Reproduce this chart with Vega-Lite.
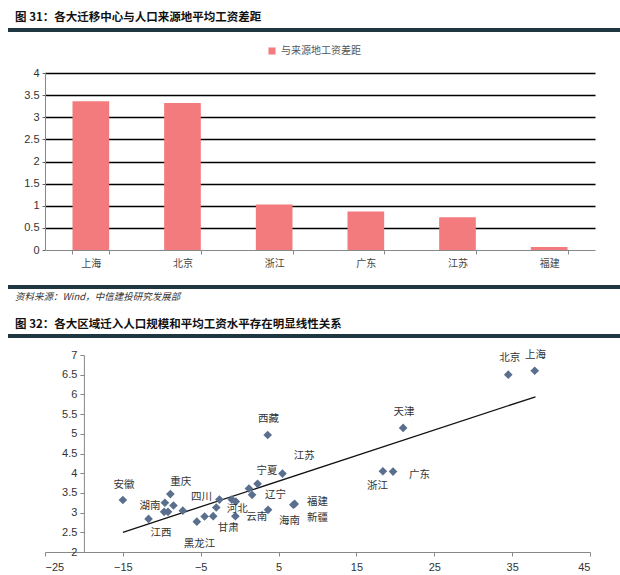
{
  "$schema": "https://vega.github.io/schema/vega-lite/v6.json",
  "padding": {"left": 5, "top": 0, "right": 0, "bottom": 0},
  "background": "white",
  "spacing": 0,
  "bounds": "flush",
  "config": {"view": {"stroke": null}, "axis": {"labelFont": "Liberation Sans"}},
  "vconcat": [
    {
      "width": 550,
      "height": 73,
      "layer": [
        {
          "data": {"values": [{"x1": -0.0673, "x2": 1.0455, "y": 0.411}]},
          "mark": {"type": "rule", "stroke": "#1f3740", "strokeWidth": 4},
          "encoding": {
            "x": {"field": "x1", "type": "quantitative", "scale": {"domain": [0, 1], "nice": false}, "axis": null},
            "x2": {"field": "x2"},
            "y": {"field": "y", "type": "quantitative", "scale": {"domain": [0, 1], "nice": false, "reverse": true}, "axis": null}
          }
        },
        {
          "data": {"values": [{"t": "图 31：各大迁移中心与人口来源地平均工资差距", "x": -0.0545, "y": 0.247}]},
          "mark": {"type": "text", "align": "left", "baseline": "middle", "font": "Noto Sans CJK SC", "fontWeight": "bold", "fontSize": 11.5, "color": "#111"},
          "encoding": {
            "x": {"field": "x", "type": "quantitative", "scale": {"domain": [0, 1], "nice": false}, "axis": null},
            "y": {"field": "y", "type": "quantitative", "scale": {"domain": [0, 1], "nice": false, "reverse": true}, "axis": null},
            "text": {"field": "t"}
          }
        }
      ]
    },
    {
      "width": 550,
      "height": 177,
      "data": {"values": [
        {"city": "上海", "gap": 3.36, "s": "与来源地工资差距"},
        {"city": "北京", "gap": 3.32, "s": "与来源地工资差距"},
        {"city": "浙江", "gap": 1.03, "s": "与来源地工资差距"},
        {"city": "广东", "gap": 0.87, "s": "与来源地工资差距"},
        {"city": "江苏", "gap": 0.74, "s": "与来源地工资差距"},
        {"city": "福建", "gap": 0.07, "s": "与来源地工资差距"}
      ]},
      "mark": {"type": "bar"},
      "encoding": {
        "x": {"field": "city", "type": "nominal", "sort": null,
          "scale": {"paddingInner": 0.6, "paddingOuter": 0.3},
          "axis": {"title": null, "labelAngle": 0, "tickBand": "extent", "domainColor": "#888", "tickColor": "#888", "tickSize": 4,
            "labelFont": "Noto Sans CJK SC", "labelFontSize": 10, "labelColor": "#444", "labelPadding": 4, "zindex": 1}},
        "y": {"field": "gap", "type": "quantitative", "scale": {"domain": [0, 4], "nice": false},
          "axis": {"title": null, "values": [0, 0.5, 1, 1.5, 2, 2.5, 3, 3.5, 4], "format": "~g", "grid": true, "labelOverlap": false,
            "gridColor": {"condition": {"test": "datum.value === 0", "value": "transparent"}, "value": "#000"},
            "gridWidth": 1.5, "domainColor": "#888", "tickColor": "#666", "tickSize": 3,
            "labelFontSize": 11, "labelColor": "#333", "labelPadding": 3}},
        "color": {"field": "s", "type": "nominal", "scale": {"range": ["#f47b7d"]},
          "legend": {"orient": "none", "legendX": 222, "legendY": 46, "title": null, "symbolType": "square", "symbolSize": 50,
            "symbolStrokeWidth": 0, "labelFontSize": 10, "labelColor": "#555", "labelFont": "Noto Sans CJK SC"}}
      }
    },
    {
      "width": 550,
      "height": 105,
      "layer": [
        {
          "data": {"values": [{"x1": -0.0673, "x2": 1.0455, "y": 0.352}, {"x1": -0.0673, "x2": 1.0455, "y": 0.819}]},
          "mark": {"type": "rule", "stroke": "#1f3740", "strokeWidth": 4},
          "encoding": {
            "x": {"field": "x1", "type": "quantitative", "scale": {"domain": [0, 1], "nice": false}, "axis": null},
            "x2": {"field": "x2"},
            "y": {"field": "y", "type": "quantitative", "scale": {"domain": [0, 1], "nice": false, "reverse": true}, "axis": null}
          }
        },
        {
          "data": {"values": [{"t": "资料来源：Wind，中信建投研究发展部", "x": -0.0545, "y": 0.448}]},
          "mark": {"type": "text", "align": "left", "baseline": "middle", "font": "Noto Sans CJK SC", "fontStyle": "italic", "fontSize": 9.5, "color": "#333"},
          "encoding": {
            "x": {"field": "x", "type": "quantitative", "scale": {"domain": [0, 1], "nice": false}, "axis": null},
            "y": {"field": "y", "type": "quantitative", "scale": {"domain": [0, 1], "nice": false, "reverse": true}, "axis": null},
            "text": {"field": "t"}
          }
        },
        {
          "data": {"values": [{"t": "图 32：各大区域迁入人口规模和平均工资水平存在明显线性关系", "x": -0.0545, "y": 0.714}]},
          "mark": {"type": "text", "align": "left", "baseline": "middle", "font": "Noto Sans CJK SC", "fontWeight": "bold", "fontSize": 11.5, "color": "#111"},
          "encoding": {
            "x": {"field": "x", "type": "quantitative", "scale": {"domain": [0, 1], "nice": false}, "axis": null},
            "y": {"field": "y", "type": "quantitative", "scale": {"domain": [0, 1], "nice": false, "reverse": true}, "axis": null},
            "text": {"field": "t"}
          }
        }
      ]
    },
    {
      "width": 545,
      "height": 197,
      "encoding": {
        "x": {"field": "x", "type": "quantitative", "scale": {"domain": [-25, 45], "nice": false, "zero": false},
          "axis": {"title": null, "values": [-25, -15, -5, 5, 15, 25, 35, 45], "grid": false, "labelOverlap": false, "domainColor": "#888", "tickColor": "#888",
            "tickSize": 4, "labelFontSize": 11, "labelColor": "#333", "labelPadding": 5}},
        "y": {"field": "y", "type": "quantitative", "scale": {"domain": [2, 7], "nice": false, "zero": false},
          "axis": {"title": null, "values": [2, 2.5, 3, 3.5, 4, 4.5, 5, 5.5, 6, 6.5, 7], "format": "~g", "grid": false, "labelOverlap": false, "offset": -38.9,
            "domainColor": "#888", "tickColor": "#888", "tickSize": 4, "labelFontSize": 11, "labelColor": "#333", "labelPadding": 3}}
      },
      "layer": [
        {
          "data": {"values": [{"x": -15, "y": 2.5}, {"x": 38, "y": 5.94}]},
          "mark": {"type": "line", "color": "#111", "strokeWidth": 1.3}
        },
        {
          "data": {"values": [
            {"p": "安徽", "x": -15.0, "y": 3.32},
            {"p": "江西", "x": -11.7, "y": 2.84},
            {"p": "湖南", "x": -9.6, "y": 3.25},
            {"p": "", "x": -9.7, "y": 3.02},
            {"p": "", "x": -9.2, "y": 3.02},
            {"p": "", "x": -8.5, "y": 3.18},
            {"p": "重庆", "x": -8.9, "y": 3.47},
            {"p": "", "x": -7.3, "y": 3.05},
            {"p": "黑龙江", "x": -5.5, "y": 2.77},
            {"p": "", "x": -4.5, "y": 2.9},
            {"p": "", "x": -3.4, "y": 2.91},
            {"p": "", "x": -3.0, "y": 3.13},
            {"p": "四川", "x": -2.6, "y": 3.33},
            {"p": "", "x": -1.0, "y": 3.33},
            {"p": "河北", "x": -0.5, "y": 3.28},
            {"p": "甘肃", "x": -0.55, "y": 2.91},
            {"p": "", "x": 1.2, "y": 3.61},
            {"p": "宁夏", "x": 2.3, "y": 3.73},
            {"p": "辽宁", "x": 1.6, "y": 3.45},
            {"p": "云南", "x": 3.65, "y": 3.07},
            {"p": "西藏", "x": 3.6, "y": 4.97},
            {"p": "江苏", "x": 5.5, "y": 3.99},
            {"p": "福建", "x": 7.07, "y": 3.22},
            {"p": "新疆", "x": 6.9, "y": 3.2},
            {"p": "天津", "x": 21.0, "y": 5.15},
            {"p": "浙江", "x": 18.4, "y": 4.05},
            {"p": "广东", "x": 19.7, "y": 4.04},
            {"p": "北京", "x": 34.5, "y": 6.5},
            {"p": "上海", "x": 37.9, "y": 6.6}
          ]},
          "mark": {"type": "point", "shape": "diamond", "filled": true, "opacity": 1, "size": 75, "color": "#5a6f8e"}
        },
        {
          "data": {"values": [
            {"label": "西藏", "x": 3.7, "y": 5.37},
            {"label": "江苏", "x": 8.3, "y": 4.44},
            {"label": "宁夏", "x": 3.5, "y": 4.06},
            {"label": "辽宁", "x": 4.6, "y": 3.44},
            {"label": "福建", "x": 10.0, "y": 3.28},
            {"label": "新疆", "x": 10.0, "y": 2.87},
            {"label": "海南", "x": 6.4, "y": 2.79},
            {"label": "云南", "x": 2.2, "y": 2.89},
            {"label": "河北", "x": -0.3, "y": 3.1},
            {"label": "甘肃", "x": -1.45, "y": 2.62},
            {"label": "黑龙江", "x": -5.15, "y": 2.2},
            {"label": "四川", "x": -4.9, "y": 3.4},
            {"label": "重庆", "x": -7.55, "y": 3.78},
            {"label": "安徽", "x": -14.85, "y": 3.7},
            {"label": "湖南", "x": -11.5, "y": 3.16},
            {"label": "江西", "x": -10.1, "y": 2.48},
            {"label": "北京", "x": 34.7, "y": 6.92},
            {"label": "上海", "x": 38.0, "y": 7.0},
            {"label": "天津", "x": 21.1, "y": 5.56},
            {"label": "浙江", "x": 17.7, "y": 3.68},
            {"label": "广东", "x": 23.1, "y": 3.95}
          ]},
          "mark": {"type": "text", "font": "Noto Sans CJK SC", "fontSize": 10.5, "color": "#333", "align": "center", "baseline": "middle"},
          "encoding": {
            "text": {"field": "label"}
          }
        }
      ]
    }
  ]
}
